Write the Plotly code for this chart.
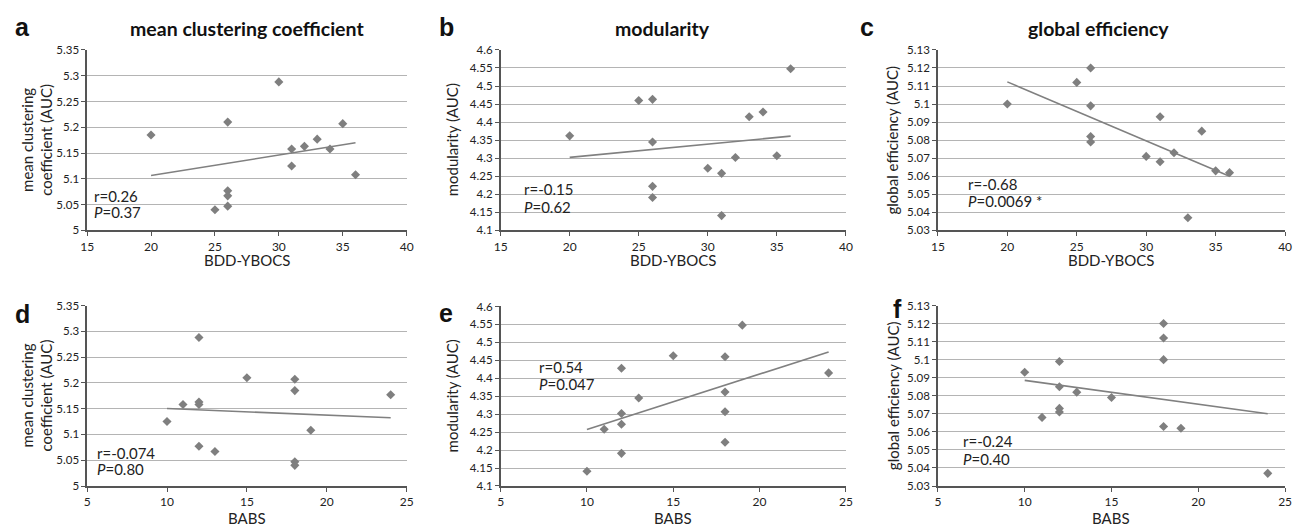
import numpy as np
import plotly.graph_objects as go

# ---- data (one entry per subject) ----
bdd_ybocs = [30, 26, 35, 20, 33, 32, 31, 34, 31, 36, 26, 26, 26, 25]
babs = [12, 15, 18, 18, 24, 12, 11, 12, 10, 19, 12, 13, 18, 18]
clustering = [5.288, 5.210, 5.207, 5.185, 5.177, 5.163, 5.158, 5.158, 5.125, 5.108, 5.077, 5.067, 5.047, 5.040]
modularity = [4.272, 4.463, 4.307, 4.362, 4.415, 4.302, 4.258, 4.428, 4.141, 4.548, 4.191, 4.345, 4.222, 4.460]
efficiency = [5.071, 5.079, 5.063, 5.100, 5.037, 5.073, 5.068, 5.085, 5.093, 5.062, 5.099, 5.082, 5.120, 5.112]

col_titles = ["mean clustering coefficient", "modularity", "global efficiency"]
panel_letters = ["a", "b", "c", "d", "e", "f"]
y_titles = ["mean clustering<br>coefficient (AUC)", "modularity (AUC)", "global efficiency (AUC)"]
x_titles = ["BDD-YBOCS", "BABS"]
r_text = ["r=0.26", "r=-0.15", "r=-0.68", "r=-0.074", "r=0.54", "r=-0.24"]
p_text = ["<i>P</i>=0.37", "<i>P</i>=0.62", "<i>P</i>=0.0069 *", "<i>P</i>=0.80", "<i>P</i>=0.047", "<i>P</i>=0.40"]

x_ranges = [[15, 40], [5, 25]]
y_ranges = [[5.0, 5.35], [4.1, 4.6], [5.03, 5.13]]
y_dticks = [0.05, 0.05, 0.01]

# ---- layout geometry (pixels) ----
W, H = 1301, 532
def fx(x): return x / W
def fy(y): return 1 - y / H

boxes = [  # x0, x1, ytop, ybottom
    (81, 404, 44, 229), (499, 848, 44, 229), (941, 1292, 44, 229),
    (81, 404, 306, 491), (499, 848, 307, 491), (941, 1292, 306, 491),
]
letter_pos = [(16, 20), (444, 20), (869, 20), (16, 315), (444, 314), (900, 310)]
ytitle_x = [30, 450, 895, 30, 450, 895]
anno_pos = [(86, 194, 210), (521, 187, 205), (969, 181, 199),
            (89, 457, 474), (536, 369, 386), (964, 445, 463)]
xtitle_y = [259, 524]

FONT = "Lato"
marker_color = "#7f7f7f"
line_color = "#808080"

fig = go.Figure()
annotations = []
layout_axes = {}

xs_by_row = [bdd_ybocs, babs]
ys_by_col = [clustering, modularity, efficiency]

for i in range(6):
    row, col = divmod(i, 3)
    xa = "x" if i == 0 else f"x{i+1}"
    ya = "y" if i == 0 else f"y{i+1}"
    xs = np.array(xs_by_row[row], dtype=float)
    ys = np.array(ys_by_col[col], dtype=float)
    fig.add_trace(go.Scatter(x=xs, y=ys, mode="markers", xaxis=xa, yaxis=ya,
                             marker=dict(symbol="diamond", size=7, color=marker_color,
                                         line=dict(width=0)),
                             showlegend=False, hoverinfo="x+y"))
    slope, intercept = np.polyfit(xs, ys, 1)
    lx = np.array([xs.min(), xs.max()])
    fig.add_trace(go.Scatter(x=lx, y=slope * lx + intercept, mode="lines", xaxis=xa, yaxis=ya,
                             line=dict(color=line_color, width=1.6),
                             showlegend=False, hoverinfo="skip"))
    x0, x1, yt, yb = boxes[i]
    xkey = "xaxis" if i == 0 else f"xaxis{i+1}"
    ykey = "yaxis" if i == 0 else f"yaxis{i+1}"
    layout_axes[xkey] = dict(domain=[fx(x0), fx(x1)], anchor=ya, range=x_ranges[row], dtick=5,
                             showgrid=False, zeroline=False, showline=True, linecolor="#555",
                             linewidth=1.5, ticks="outside", ticklen=4, tickcolor="#555",
                             ticklabeloverflow="allow",
                             tickfont=dict(family=FONT, size=12, color="#222"))
    layout_axes[ykey] = dict(domain=[fy(yb), fy(yt)], anchor=xa, range=y_ranges[col],
                             dtick=y_dticks[col], showgrid=True, gridcolor="#b4b4b4", gridwidth=1.3,
                             zeroline=False, showline=True, linecolor="#555", linewidth=1.5,
                             ticks="outside", ticklen=4, tickcolor="#555",
                             tickfont=dict(family=FONT, size=11.5, color="#222"))
    # panel letter
    lx_, ly_ = letter_pos[i]
    annotations.append(dict(text=f"<b>{panel_letters[i]}</b>", x=fx(lx_), y=fy(ly_), xref="paper",
                            yref="paper", showarrow=False, xanchor="center", yanchor="middle",
                            font=dict(family="Liberation Sans", size=25, color="#111")))
    # y title
    annotations.append(dict(text=y_titles[col], x=fx(ytitle_x[i]), y=fy((yt + yb) / 2),
                            xref="paper", yref="paper", showarrow=False, textangle=-90,
                            xanchor="center", yanchor="middle",
                            font=dict(family=FONT, size=15, color="#222")))
    # x title
    annotations.append(dict(text=x_titles[row], x=fx((x0 + x1) / 2), y=fy(xtitle_y[row]),
                            xref="paper", yref="paper", showarrow=False,
                            xanchor="center", yanchor="middle",
                            font=dict(family=FONT, size=15, color="#222")))
    # stats
    ax_, ry, pyy = anno_pos[i]
    annotations.append(dict(text=r_text[i], x=fx(ax_), y=fy(ry), xref="paper", yref="paper",
                            showarrow=False, xanchor="left", yanchor="middle",
                            font=dict(family=FONT, size=15, color="#222")))
    annotations.append(dict(text=p_text[i], x=fx(ax_), y=fy(pyy), xref="paper", yref="paper",
                            showarrow=False, xanchor="left", yanchor="middle",
                            font=dict(family=FONT, size=15, color="#222")))

title_x = [243, 663, 1103]
for c in range(3):
    annotations.append(dict(text=f"<b>{col_titles[c]}</b>", x=fx(title_x[c]), y=fy(22),
                            xref="paper", yref="paper", showarrow=False,
                            xanchor="center", yanchor="middle",
                            font=dict(family=FONT, size=19.5, color="#111")))

fig.update_layout(width=W, height=H, margin=dict(l=0, r=0, t=0, b=0),
                  paper_bgcolor="white", plot_bgcolor="white", hovermode=False,
                  annotations=annotations, **layout_axes)

fig.write_html("out.html", config={"displayModeBar": False},
               post_script="document.body.style.margin='0';document.body.style.overflow='hidden';")
